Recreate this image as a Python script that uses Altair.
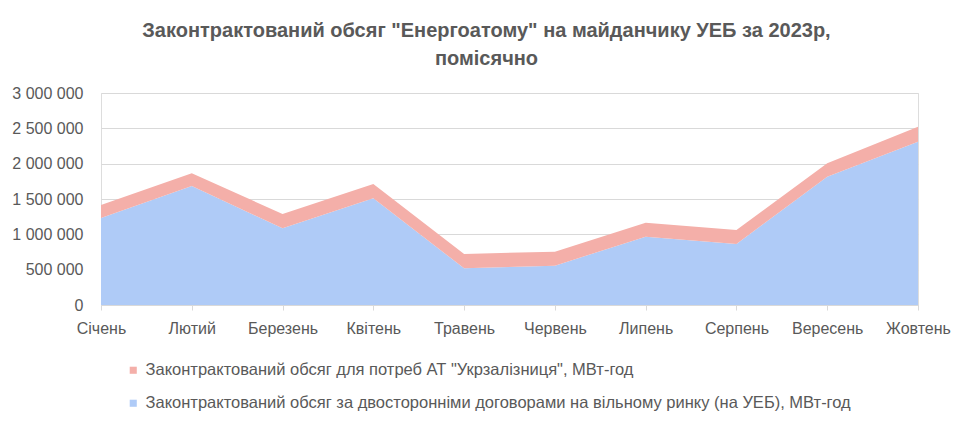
import altair as alt
import pandas as pd

months = ["Січень", "Лютий", "Березень", "Квітень", "Травень",
          "Червень", "Липень", "Серпень", "Вересень", "Жовтень"]
free_market = [1230000, 1684000, 1085000, 1509000, 519000,
               557000, 967000, 863000, 1816000, 2311000]
railway = [185000, 179000, 203000, 203000, 203000,
           198000, 198000, 198000, 189000, 212000]

label_rail = 'Законтрактований обсяг для потреб АТ "Укрзалізниця", МВт-год'
label_free = "Законтрактований обсяг за двосторонніми договорами на вільному ринку (на УЕБ), МВт-год"

rows = []
for i, m in enumerate(months):
    rows.append({"month": m, "series": label_free, "value": free_market[i], "ord": 0})
    rows.append({"month": m, "series": label_rail, "value": railway[i], "ord": 1})
df = pd.DataFrame(rows)

FONT = "Liberation Sans, Arial, sans-serif"
GREY = "#595959"

chart = alt.Chart(df).mark_area(opacity=1).encode(
    x=alt.X("month:O", sort=months, scale=alt.Scale(padding=0),
            axis=alt.Axis(title=None, labelAngle=0, labelFontSize=16, labelColor=GREY,
                          labelFont=FONT, domainColor="#d9d9d9", tickColor="#d9d9d9",
                          tickSize=5, labelPadding=10, grid=False)),
    y=alt.Y("value:Q", stack="zero",
            scale=alt.Scale(domain=[0, 3000000]),
            axis=alt.Axis(title=None, values=[0, 500000, 1000000, 1500000, 2000000, 2500000, 3000000],
                          labelExpr="replace(format(datum.value, ',d'), regexp(',', 'g'), ' ')",
                          labelFontSize=16, labelColor=GREY, labelFont=FONT,
                          domain=False, ticks=False, labelPadding=18,
                          gridColor="#d9d9d9", gridWidth=1)),
    color=alt.Color("series:N",
                    scale=alt.Scale(domain=[label_rail, label_free], range=["#F4AFA9", "#AFCBF7"]),
                    legend=alt.Legend(title=None, orient="none", legendX=24, legendY=269,
                                      direction="vertical", labelFontSize=16.5, labelColor=GREY,
                                      labelFont=FONT, symbolType="square", symbolSize=50,
                                      symbolStrokeWidth=0, rowPadding=16, labelLimit=900,
                                      symbolOffset=0, labelOffset=4)),
    order=alt.Order("ord:Q", sort="ascending"),
).properties(
    width=817,
    height=212,
    title=alt.TitleParams(
        text=['Законтрактований обсяг "Енергоатому" на майданчику УЕБ за 2023р,', "помісячно"],
        font=FONT, fontSize=20, fontWeight="bold", color=GREY, anchor="middle",
        dx=-23, offset=16, lineHeight=28),
    autosize=alt.AutoSizeParams(type="none"),
    padding={"left": 93, "top": 85, "right": 46, "bottom": 111},
).configure_view(stroke=None).configure(background="white")

chart.save("out.html", embed_options={"renderer": "svg", "actions": False})
